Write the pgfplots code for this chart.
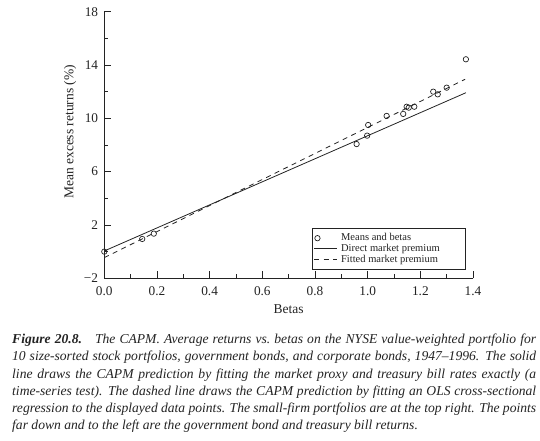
\documentclass[border=0pt]{standalone}
\usepackage{fontspec}
\setmainfont{Liberation Serif}
\usepackage{pgfplots}
\pgfplotsset{compat=1.18}
\definecolor{ink}{RGB}{35,35,35}
\newcommand{\tickfont}{\fontsize{13.3bp}{16bp}\selectfont}
\newcommand{\labfont}{\fontsize{13.5bp}{16bp}\selectfont}
\newcommand{\capfont}{\fontsize{13.6bp}{15bp}\selectfont\itshape}
\pgfplotsset{
  marklegend/.style={legend image code/.code={\path[draw=none,fill=none] (0bp,0bp) -- (24bp,0bp); \draw[##1] plot coordinates {(3.3bp,0bp)};}},
  linelegend/.style={legend image code/.code={\path[draw=none,fill=none] (0bp,0bp) -- (24bp,0bp); \draw[##1] (0bp,0bp) -- (22.6bp,0bp);}},
}
\begin{document}
\begin{tikzpicture}[x=1bp,y=1bp]
\useasboundingbox (0,0) rectangle (540,441);
\begin{axis}[
  at={(104.3bp,162.7bp)}, anchor=south west,
  scale only axis, width=368.7bp, height=266.6bp,
  xmin=0, xmax=1.4, ymin=-2, ymax=18,
  clip=false,
  axis x line=bottom, axis y line=left,
  axis line style={-, ink, line width=0.9bp},
  tick align=inside,
  major tick length=7bp, minor tick length=4bp,
  every tick/.style={ink, line width=0.8bp},
  xtick={0,0.2,0.4,0.6,0.8,1.0,1.2,1.4},
  xticklabels={0.0,0.2,0.4,0.6,0.8,1.0,1.2,1.4},
  minor xtick={0.1,0.3,0.5,0.7,0.9,1.1,1.3},
  ytick={-2,2,6,10,14,18},
  yticklabels={−2,2,6,10,14,18},
  minor ytick={0,4,8,12,16},
  xticklabel style={font=\tickfont, text=ink, anchor=base, inner sep=0pt, yshift=-17bp},
  yticklabel style={font=\tickfont, text=ink, anchor=east, inner sep=0pt, xshift=-6bp},
  xlabel={Betas},
  ylabel={Mean excess returns (\%)},
  xlabel style={at={(axis description cs:0.5,-0.131)}, anchor=base, font=\labfont, text=ink},
  ylabel style={at={(axis description cs:-0.093,0.549)}, anchor=center, font=\labfont, text=ink},
  legend style={at={(axis description cs:0.981,0.0338)}, anchor=south east,
    draw=ink, line width=0.7bp, inner xsep=1.5bp, inner ysep=4bp,
    font=\fontsize{10.5bp}{11bp}\selectfont, text=ink,
    nodes={inner xsep=3bp, inner ysep=0.5bp, text height=7.3bp, text depth=2.4bp},
    row sep=0pt},
  legend cell align=left,
]
\addplot[only marks, mark=o, mark size=2.7bp, ink, line width=0.7bp, marklegend]
  table[row sep=\\] {
  x y\\
  0.000 0.00\\
  0.144 0.95\\
  0.188 1.35\\
  0.958 8.07\\
  0.998 8.70\\
  1.002 9.50\\
  1.072 10.18\\
  1.135 10.33\\
  1.148 10.87\\
  1.156 10.80\\
  1.177 10.87\\
  1.249 12.00\\
  1.266 11.80\\
  1.300 12.30\\
  1.373 14.43\\
  };
\addlegendentry{\makebox[120bp][l]{Means and betas}}
\addplot[ink, line width=0.8bp, linelegend]
  coordinates {(0,0.05) (1.373,11.92)};
\addlegendentry{\makebox[120bp][l]{Direct market premium}}
\addplot[ink, line width=0.8bp, dash pattern=on 5bp off 4.5bp, linelegend]
  coordinates {(0,-0.45) (1.37,12.93)};
\addlegendentry{\makebox[120bp][l]{Fitted market premium}}
\end{axis}
\begin{scope}[every node/.style={anchor=base west, inner sep=0pt, text=ink, font=\capfont}]
\node at (12,97.5) {\makebox[524bp][s]{\textbf{Figure 20.8.}\hspace{13bp}The CAPM. Average returns vs.\ betas on the NYSE value-weighted portfolio for}};
\node at (12,80.2) {\makebox[524bp][s]{10 size-sorted stock portfolios, government bonds, and corporate bonds, 1947–1996. The solid}};
\node at (12,62.9) {\makebox[524bp][s]{line draws the CAPM prediction by fitting the market proxy and treasury bill rates exactly (a}};
\node at (12,45.6) {\makebox[524bp][s]{time-series test). The dashed line draws the CAPM prediction by fitting an OLS cross-sectional}};
\node at (12,28.3) {\makebox[524bp][s]{regression to the displayed data points. The small-firm portfolios are at the top right. The points}};
\node at (12,11.0) {far down and to the left are the government bond and treasury bill returns.};
\end{scope}
\end{tikzpicture}
\end{document}
